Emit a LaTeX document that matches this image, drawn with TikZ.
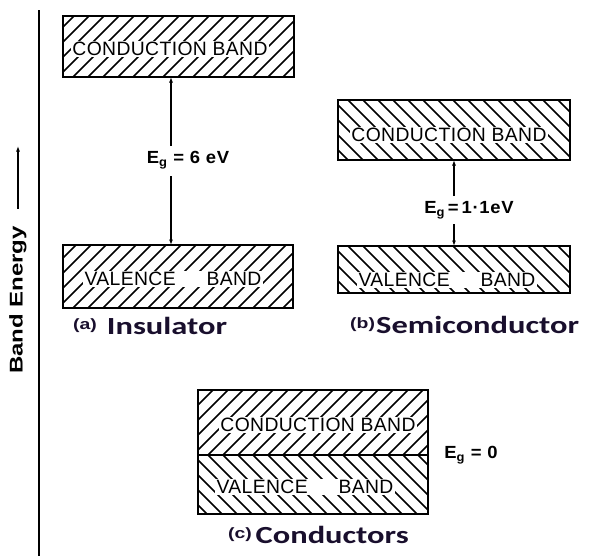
\documentclass[tikz,border=0pt]{standalone}
\usepackage{fontspec}
\setsansfont{Liberation Sans}
\newfontfamily\bandfont[LetterSpace=2]{Liberation Sans}
\newfontfamily\gapfont[FakeStretch=1.05,LetterSpace=4]{Liberation Sans}
\newfontfamily\namefont[FakeStretch=1.32]{Carlito}
\newfontfamily\axisfont[FakeStretch=1.3]{Liberation Sans}
\usepackage{tikz}
\usetikzlibrary{positioning, calc, arrows.meta}
\definecolor{labelink}{RGB}{25,15,45}
\newcommand\px{0.4mm}
\newcommand\tagfont{\axisfont\bfseries\fontsize{17}{17}\selectfont}

\begin{document}
\begin{tikzpicture}[
		x=\px, y=-\px,
		band/.style={draw, line width=2*\px, inner sep=0pt, outer sep=0pt},
		hatch/.style={line width=1.5*\px},
		bandtext/.style={fill=white, inner sep=1.5pt, font=\bandfont\fontsize{22}{24}\selectfont},
		gaptext/.style={font=\gapfont\bfseries\fontsize{20}{22}\selectfont},
		kindlabel/.style={anchor=base west, inner sep=0pt, text=labelink, font=\namefont\bfseries\fontsize{28}{30}\selectfont},
		arr/.style={-{Latex[length=2.2mm,width=1.6mm]}, line width=1.2*\px},
		axis/.style={line width=2.5*\px}
		]
		\useasboundingbox (0,0) rectangle (608,556);
		% Energy axis
		\coordinate (axT) at (39,10);
		\coordinate (axB) at (39,556);
		\draw[axis] (axT) -- (axB);
		\node[rotate=90, font=\axisfont\bfseries\fontsize{21}{23}\selectfont] (be) at (18,300) {Band Energy};
		\coordinate (beTip) at (18,146);
		\draw[arr] ([yshift=5.6mm]be.east) -- (beTip);
		% Bands
		\node[band, minimum width=231*\px, minimum height=61*\px] (cbA) at (178.5,46.5) {};
		\node[band, minimum width=230*\px, minimum height=63*\px] (vbA) at (178,276.5) {};
		\node[band, minimum width=232*\px, minimum height=60*\px] (cbB) at (454,130) {};
		\node[band, minimum width=232*\px, minimum height=47*\px] (vbB) at (454,269.5) {};
		\node[band, minimum width=230*\px, minimum height=65*\px] (cbC) at (313,422.5) {};
		\node[band, minimum width=230*\px, minimum height=59*\px] (vbC) at (313,484.5) {};
		% Hatching, clipped to each band
		\foreach \b/\a/\s in {cbA/south west/-1, vbA/south west/-1, cbB/north west/1, vbB/north west/1, cbC/south west/-1, vbC/north west/1} {
			\begin{scope}
				\clip (\b.north west) rectangle (\b.south east);
				\foreach \i in {-80,-65,...,240}
					\draw[hatch] ($(\b.\a)+(\i,0)$) -- ++(80,80*\s);
			\end{scope}
		}
		% Band names
		\node[bandtext] (cbAt) at (170,49) {CONDUCTION BAND};
		\node[bandtext] (vbAt) at (173,279) {VALENCE\hskip1.6em BAND};
		\node[bandtext] (cbBt) at (449,135) {CONDUCTION BAND};
		\node[bandtext] (vbBt) at (447,280) {VALENCE\hskip1.6em BAND};
		\node[bandtext] (cbCt) at (318,425) {CONDUCTION BAND};
		\node[bandtext] (vbCt) at (305,487) {VALENCE\hskip1.6em BAND};
		% Energy gaps
		\node[gaptext] (egA) at (188,160) {E\textsubscript{g} = 6 eV};
		\coordinate (aA1) at (171,146);
		\coordinate (aA2) at (171,176);
		\draw[arr] (aA1) -- (cbA.south -| aA1);
		\draw[arr] (aA2) -- (vbA.north -| aA2);
		\node[gaptext] (egB) at (469,210) {E\textsubscript{g}\,=\,1·1eV};
		\coordinate (aB1) at (454,196);
		\coordinate (aB2) at (454,224);
		\draw[arr] (aB1) -- (cbB.south -| aB1);
		\draw[arr] (aB2) -- (vbB.north -| aB2);
		\node[gaptext] (egC) at (471,455) {E\textsubscript{g} = 0};
		% Material labels
		\node[kindlabel] (lbA) at (73,334) {\raisebox{2mm}{\tagfont(a)}\hspace{4mm}Insulator};
		\node[kindlabel] (lbB) at (350,333) {\raisebox{2mm}{\tagfont(b)}\hspace{0.5mm}Semiconductor};
		\node[kindlabel] (lbC) at (228,543) {\raisebox{2mm}{\tagfont(c)}\hspace{1.5mm}Conductors};
	\end{tikzpicture}
\end{document}
